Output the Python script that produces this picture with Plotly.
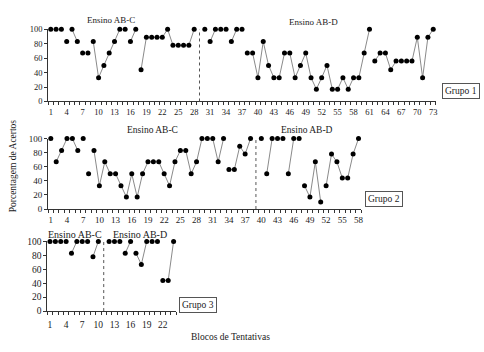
import plotly.graph_objects as go

# ---------------- data ----------------
# Grupo 1
g1_abc_x = list(range(1, 29))
g1_abc_y = [100, 100, 100, 83, 100, 83, 67, 67, 83, 33, 50, 67, 83, 100, 100, 83, 100,
            44, 89, 89, 89, 89, 100, 78, 78, 78, 78, 100]
g1_abd_x = list(range(30, 74))
g1_abd_y = [100, 83, 100, 100, 100, 83, 100, 100, 67, 67, 33, 83, 50, 33, 33, 67, 67, 33,
            50, 67, 33, 17, 33, 50, 17, 17, 33, 17, 33, 33, 67, 100, 56, 67, 67, 44, 56,
            56, 56, 56, 89, 33, 89, 100]
g1_runs = [(5, 6), (9, 14), (16, 17), (18, 28), (31, 32), (35, 36), (39, 61), (62, 73)]
g1_phase = 29
g1_xmax = 73

# Grupo 2
g2_abc_x = list(range(1, 39))
g2_abc_y = [100, 67, 83, 100, 100, 83, 100, 50, 83, 33, 67, 50, 50, 33, 17, 50, 17, 50,
            67, 67, 67, 50, 33, 67, 83, 83, 50, 67, 100, 100, 100, 67, 100, 56, 56, 89,
            78, 100]
g2_abd_x = list(range(40, 59))
g2_abd_y = [100, 50, 100, 100, 100, 50, 100, 100, 33, 17, 67, 10, 33, 78, 67, 44, 44, 78, 100]
g2_runs = [(2, 6), (9, 33), (34, 38), (41, 42), (45, 46), (48, 51), (52, 58)]
g2_phase = 39
g2_xmax = 58

# Grupo 3
g3_abc_x = list(range(1, 11))
g3_abc_y = [100, 100, 100, 100, 83, 100, 100, 100, 78, 100]
g3_abd_x = list(range(12, 25))
g3_abd_y = [100, 100, 100, 83, 100, 83, 67, 100, 100, 100, 44, 44, 100]
g3_runs = [(5, 6), (9, 10), (15, 16), (17, 19), (22, 24)]
g3_phase = 11
g3_xmax = 24

phase_labels = ["Ensino AB-C", "Ensino AB-D"]
group_labels = ["Grupo 1", "Grupo 2", "Grupo 3"]
y_ticks = [0, 20, 40, 60, 80, 100]

FONT = "Liberation Serif"
W, H = 484, 352

panels = [
    dict(x=g1_abc_x + g1_abd_x, y=g1_abc_y + g1_abd_y, runs=g1_runs, phase=g1_phase,
         xmax=g1_xmax, px=(48.3, 437.7), py=(25, 99.3), fs=8.5, so=2,
         lab_x=(12.3, 50.5), lab_dy=(10, 7), grp=(463, 89)),
    dict(x=g2_abc_x + g2_abd_x, y=g2_abc_y + g2_abd_y, runs=g2_runs, phase=g2_phase,
         xmax=g2_xmax, px=(48.3, 362.7), py=(137.5, 210), fs=9, so=2,
         lab_x=(19.9, 48.5), lab_dy=(9, 9), grp=(385.5, 200)),
    dict(x=g3_abc_x + g3_abd_x, y=g3_abc_y + g3_abd_y, runs=g3_runs, phase=g3_phase,
         xmax=g3_xmax, px=(47.5, 177), py=(243.3, 315), fs=9.5, so=5,
         lab_x=(5.7, 17.7), lab_dy=(7.5, 7.5), grp=(199, 308.5)),
]

fig = go.Figure()
layout = dict(width=W, height=H, margin=dict(l=0, r=0, t=0, b=0),
              paper_bgcolor="white", plot_bgcolor="white", showlegend=False,
              font=dict(family=FONT, color="#1a1a1a"))
shapes, annotations = [], []

for i, p in enumerate(panels):
    sfx = "" if i == 0 else str(i + 1)
    xa, ya = "x" + sfx, "y" + sfx
    # connecting lines for runs
    lx, ly = [], []
    lookup = dict(zip(p["x"], p["y"]))
    for a, b in p["runs"]:
        for xv in range(a, b + 1):
            if xv in lookup:
                lx.append(xv)
                ly.append(lookup[xv])
        lx.append(None)
        ly.append(None)
    fig.add_trace(go.Scatter(x=lx, y=ly, mode="lines", xaxis=xa, yaxis=ya,
                             line=dict(color="#8a8a8a", width=1), cliponaxis=False,
                             hoverinfo="skip"))
    fig.add_trace(go.Scatter(x=p["x"], y=p["y"], mode="markers", xaxis=xa, yaxis=ya,
                             marker=dict(color="black", size=5), cliponaxis=False))
    x0, x1 = p["px"]
    ytop, ybot = p["py"]
    layout["xaxis" + sfx] = dict(
        domain=[x0 / W, x1 / W], anchor=ya, range=[0.5, p["xmax"] + 0.5],
        tickmode="array", tickvals=list(range(1, p["xmax"] + 1, 3)),
        ticks="outside", ticklen=0, ticklabelstandoff=p["so"],
        showline=True, linecolor="#333", linewidth=1,
        showgrid=False, zeroline=False, tickfont=dict(size=p["fs"], family=FONT, color="#1a1a1a"),
        minor=dict(ticks="outside", ticklen=3, tick0=0.5, dtick=1, tickcolor="#333",
                   tickwidth=1, showgrid=False),
        fixedrange=True)
    layout["yaxis" + sfx] = dict(
        domain=[1 - ybot / H, 1 - ytop / H], anchor=xa, range=[0, 100],
        tickmode="array", tickvals=y_ticks, ticks="outside", ticklen=3,
        tickcolor="#333", showline=True, linecolor="#333", linewidth=1,
        showgrid=False, zeroline=False, tickfont=dict(size=p["fs"], family=FONT, color="#1a1a1a"),
        fixedrange=True)
    shapes.append(dict(type="line", xref=xa, yref=ya + " domain", x0=p["phase"], x1=p["phase"],
                       y0=0, y1=1, line=dict(color="#555", width=1, dash="dot")))
    hpx = ybot - ytop
    for lab, lxv, dy in zip(phase_labels, p["lab_x"], p["lab_dy"]):
        annotations.append(dict(text=lab, xref=xa, yref=ya + " domain", x=lxv,
                                y=1 + dy / hpx, showarrow=False, xanchor="center",
                                yanchor="middle", font=dict(size=p["fs"] + 0.5, family=FONT, color="#1a1a1a")))
    gx, gy = p["grp"]
    annotations.append(dict(text=group_labels[i], xref="paper", yref="paper", x=gx / W,
                            y=1 - gy / H, showarrow=False, xanchor="center", yanchor="middle",
                            bordercolor="#555", borderwidth=1, borderpad=2, bgcolor="white",
                            font=dict(size=9.5, family=FONT, color="#1a1a1a")))

annotations.append(dict(text="Porcentagem de Acertos", xref="paper", yref="paper",
                        x=13 / W, y=1 - 165 / H, textangle=-90, showarrow=False,
                        xanchor="center", yanchor="middle",
                        font=dict(size=9.5, family=FONT, color="#1a1a1a")))
annotations.append(dict(text="Blocos de Tentativas", xref="paper", yref="paper",
                        x=231 / W, y=1 - 342 / H, showarrow=False,
                        xanchor="center", yanchor="middle",
                        font=dict(size=9.5, family=FONT, color="#1a1a1a")))

layout["shapes"] = shapes
layout["annotations"] = annotations
fig.update_layout(**layout)
fig.write_html("out.html", config={"displayModeBar": False},
               post_script="document.body.style.margin='0';document.body.style.overflow='hidden';")
